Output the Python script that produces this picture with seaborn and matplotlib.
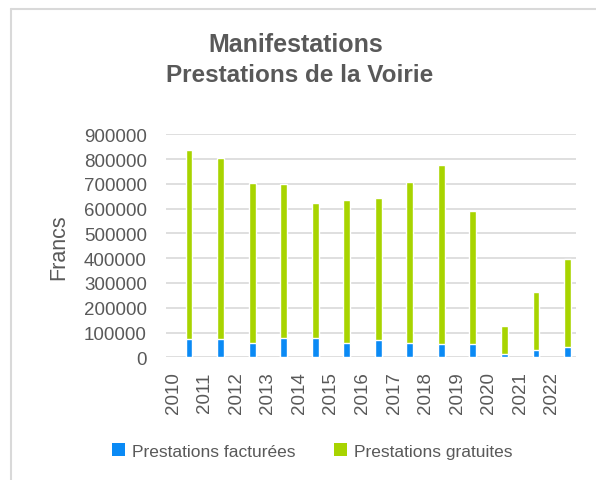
import numpy as np
import pandas as pd
import matplotlib
matplotlib.use("Agg")
import matplotlib.pyplot as plt
import seaborn as sns
from matplotlib.patches import Patch
from matplotlib.lines import Line2D

years = ["2010", "2011", "2012", "2013", "2014", "2015", "2016", "2017", "2018", "2019", "2020", "2021", "2022"]
facturees = [74000, 74000, 58000, 78000, 78000, 58000, 68000, 58000, 52000, 52000, 12000, 28000, 43000]
gratuites = [762000, 730000, 644000, 620000, 544000, 578000, 576000, 650000, 723000, 539000, 115000, 235000, 355000]
yticks = [0, 100000, 200000, 300000, 400000, 500000, 600000, 700000, 800000, 900000]

sns.set_theme(style="white")
plt.rcParams['font.family'] = ['Liberation Sans', 'DejaVu Sans']

df = pd.DataFrame({"year": years, "fact": facturees, "grat": gratuites})
df["total"] = df["fact"] + df["grat"]

GREEN = "#a8d400"
BLUE = "#0a8af5"
TXT = "#595959"

fig = plt.figure(figsize=(5.96, 4.81), dpi=100)
ax = fig.add_axes([0.278, 0.255, 0.688, 0.4637])

sns.barplot(data=df, x="year", y="total", color=GREEN, width=0.22, saturation=1, ax=ax)
sns.barplot(data=df, x="year", y="fact", color=BLUE, width=0.22, saturation=1, ax=ax)

ax.set_ylim(0, 900000)
ax.set_xlim(-0.74, 12.26)
ax.set_yticks(yticks)
ax.set_yticklabels([str(v) for v in yticks], color=TXT, fontsize=13.5)
ax.set_xticks(np.arange(len(years)) - 0.5)
ax.set_xticklabels(years, rotation=90, color=TXT, fontsize=13.5)
ax.tick_params(axis="y", length=0, pad=13.5)
ax.tick_params(axis="x", length=0, pad=10)
ax.yaxis.grid(True, color="#d9d9d9", linewidth=1.2)
ax.set_axisbelow(True)
for s in ax.spines.values():
    s.set_visible(False)
ax.set_xlabel("")
ax.set_ylabel("")

fig.text(59 / 596, 1 - 247 / 481, "Francs", rotation=90, ha="center", va="center",
         color=TXT, fontsize=15.5)
fig.text(296 / 596, 1 - 45 / 481, "Manifestations", ha="center", va="center",
         color=TXT, fontsize=18, fontweight="bold")
fig.text(300 / 596, 1 - 76 / 481, "Prestations de la Voirie", ha="center", va="center",
         color=TXT, fontsize=17.5, fontweight="bold")

handles = [Patch(facecolor=BLUE, edgecolor="none"), Patch(facecolor=GREEN, edgecolor="none")]
leg = fig.legend(handles, ["Prestations facturées", "Prestations gratuites"], loc="center",
                 bbox_to_anchor=(312 / 596, 1 - 452 / 481), ncol=2, frameon=False,
                 fontsize=12.5, handlelength=0.75, handleheight=0.75, handletextpad=0.4,
                 columnspacing=2.2)
for t in leg.get_texts():
    t.set_color(TXT)

# frame border (top and left)
fig.add_artist(Line2D([11 / 596, 11 / 596], [0, 1 - 10 / 481], color="#d9d9d9", lw=1.5,
                      transform=fig.transFigure))
fig.add_artist(Line2D([11 / 596, 1], [1 - 10 / 481, 1 - 10 / 481], color="#d9d9d9", lw=1.5,
                      transform=fig.transFigure))

fig.savefig("out.png", dpi=100)
